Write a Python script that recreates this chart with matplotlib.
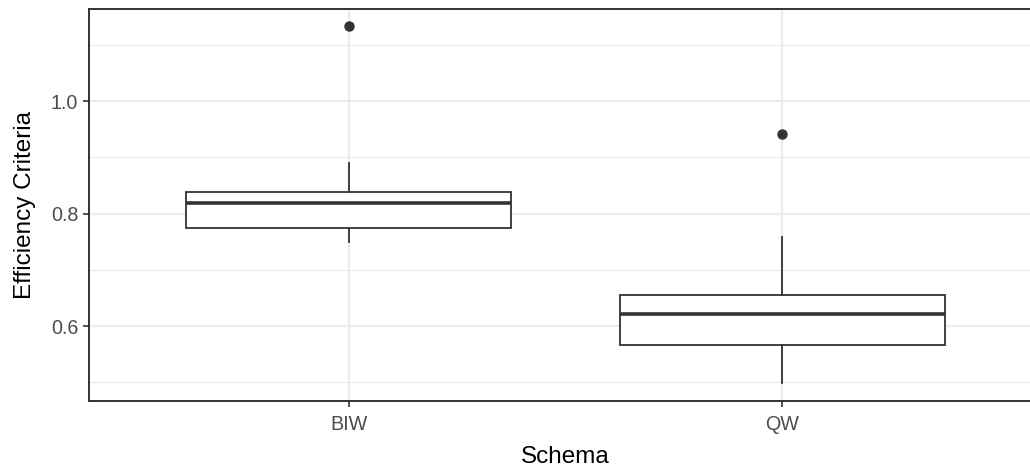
import matplotlib
matplotlib.use("Agg")
import matplotlib.pyplot as plt

categories = ["BIW", "QW"]
q1 = [0.774, 0.567]
median = [0.819, 0.621]
q3 = [0.838, 0.655]
whisker_low = [0.750, 0.499]
whisker_high = [0.890, 0.759]
outliers = [[1.133], [0.941]]

plt.rcParams['font.family'] = ['Liberation Sans', 'DejaVu Sans']

fig = plt.figure(figsize=(10.30, 4.67), dpi=100)
ax = fig.add_axes([89/1030, 66/467, 953/1030, 392/467])

stats = []
for i, c in enumerate(categories):
    stats.append(dict(label=c, q1=q1[i], med=median[i], q3=q3[i],
                      whislo=whisker_low[i], whishi=whisker_high[i],
                      fliers=outliers[i]))

edge = '#333333'
ax.bxp(stats, positions=[1, 2], widths=0.75, showcaps=False, patch_artist=True,
       boxprops=dict(facecolor='white', edgecolor=edge, linewidth=1.3),
       medianprops=dict(color=edge, linewidth=2.6, solid_capstyle='butt'),
       whiskerprops=dict(color=edge, linewidth=1.3),
       flierprops=dict(marker='o', markerfacecolor=edge, markeredgecolor=edge,
                       markersize=6.5),
       zorder=3)

ax.set_xlim(0.4, 2.6)
ax.set_ylim(0.4667, 1.1636)
ax.set_yticks([0.6, 0.8, 1.0])
ax.set_yticklabels(["0.6", "0.8", "1.0"])
ax.set_yticks([0.5, 0.7, 0.9, 1.1], minor=True)
ax.set_xticks([1, 2])
ax.set_xticklabels(categories)

ax.grid(True, which='major', color='#EBEBEB', linewidth=1.6, zorder=0)
ax.grid(True, which='minor', axis='y', color='#EBEBEB', linewidth=0.9, zorder=0)
ax.set_axisbelow(True)

for s in ax.spines.values():
    s.set_color(edge)
    s.set_linewidth(1.4)

ax.tick_params(axis='both', which='major', length=4.3, width=1.2, color=edge,
               labelsize=14.2, labelcolor='#4D4D4D', pad=3.5)
ax.tick_params(axis='x', which='major', pad=6.0)
ax.tick_params(axis='both', which='minor', length=0)

ax.set_xlabel("Schema", fontsize=17.5, color='black', labelpad=8.3)
ax.set_ylabel("Efficiency Criteria", fontsize=17.5, color='black', labelpad=10.5)

fig.savefig("out.png", dpi=100)
